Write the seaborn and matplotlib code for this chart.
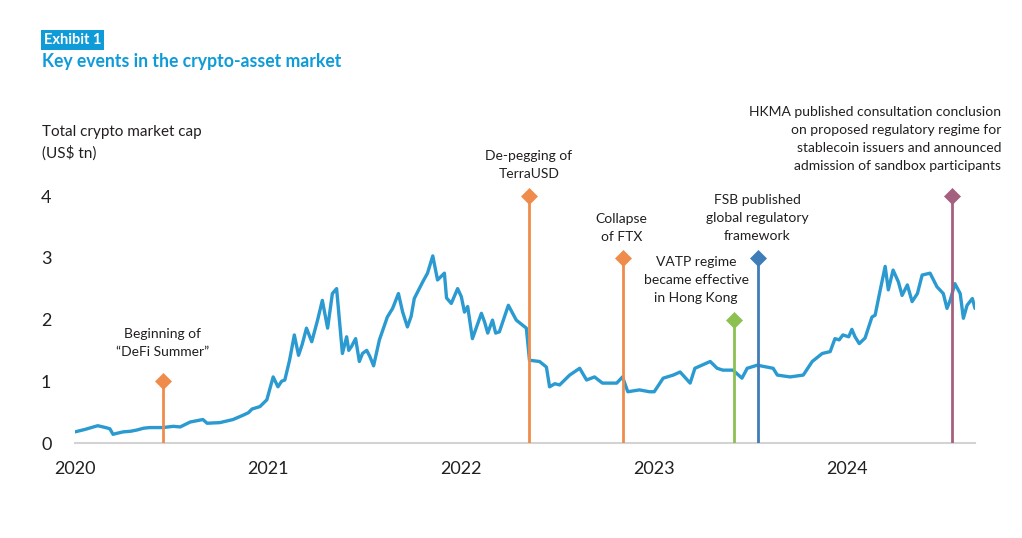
import matplotlib
matplotlib.use("Agg")
import matplotlib.pyplot as plt
import seaborn as sns
import pandas as pd

# ---------------- data ----------------
dates = [
    "2020-01-01", "2020-01-20", "2020-02-13", "2020-02-28", "2020-03-07", "2020-03-13",
    "2020-03-17", "2020-04-01", "2020-04-15", "2020-04-27", "2020-05-10",
    "2020-05-22", "2020-06-15", "2020-07-05", "2020-07-18", "2020-08-06", "2020-08-18",
    "2020-08-30", "2020-09-07", "2020-10-01", "2020-10-26", "2020-11-14", "2020-11-24",
    "2020-12-01", "2020-12-16", "2020-12-29",
    "2021-01-10", "2021-01-19", "2021-01-26", "2021-02-01", "2021-02-10", "2021-02-19",
    "2021-02-27", "2021-03-06", "2021-03-14", "2021-03-24", "2021-04-04", "2021-04-13",
    "2021-04-23", "2021-05-02", "2021-05-10", "2021-05-21", "2021-05-29", "2021-06-02",
    "2021-06-07", "2021-06-15", "2021-06-22", "2021-06-28", "2021-07-06", "2021-07-12",
    "2021-07-19", "2021-07-30", "2021-08-14", "2021-08-24", "2021-09-04", "2021-09-12",
    "2021-09-21", "2021-09-28", "2021-10-04", "2021-10-20", "2021-10-29", "2021-11-08",
    "2021-11-17", "2021-11-30", "2021-12-04", "2021-12-13", "2021-12-20", "2021-12-25",
    "2022-01-01", "2022-01-07", "2022-01-13", "2022-01-22", "2022-02-08", "2022-02-14",
    "2022-02-20", "2022-03-01", "2022-03-07", "2022-03-14", "2022-03-31", "2022-04-15",
    "2022-05-04", "2022-05-10", "2022-05-29", "2022-06-11", "2022-06-17", "2022-06-27",
    "2022-07-06", "2022-07-25", "2022-08-13", "2022-08-26", "2022-09-10", "2022-09-25",
    "2022-10-22", "2022-11-02", "2022-11-12", "2022-12-04", "2022-12-23",
    "2023-01-01", "2023-01-18", "2023-02-06", "2023-02-19", "2023-03-10", "2023-03-19",
    "2023-04-17", "2023-04-30", "2023-05-11", "2023-05-30", "2023-06-16", "2023-06-26",
    "2023-07-15", "2023-08-14", "2023-08-22", "2023-09-15", "2023-10-10", "2023-10-27",
    "2023-11-15", "2023-11-30", "2023-12-09", "2023-12-17", "2023-12-24",
    "2024-01-04", "2024-01-10", "2024-01-16", "2024-01-24", "2024-02-04", "2024-02-17",
    "2024-02-23", "2024-03-03", "2024-03-13", "2024-03-19", "2024-03-28", "2024-04-07",
    "2024-04-14", "2024-04-24", "2024-05-03", "2024-05-13", "2024-05-22", "2024-06-06",
    "2024-06-19", "2024-07-01", "2024-07-08", "2024-07-14", "2024-07-23", "2024-08-02",
    "2024-08-08", "2024-08-15", "2024-08-25", "2024-08-30",
]
market_cap = [
    0.18, 0.22, 0.28, 0.25, 0.23, 0.14,
    0.15, 0.18, 0.19, 0.21, 0.24,
    0.25, 0.25, 0.27, 0.26, 0.34, 0.36,
    0.38, 0.32, 0.33, 0.38, 0.45, 0.49,
    0.55, 0.59, 0.70,
    1.07, 0.91, 1.00, 1.02, 1.34, 1.75,
    1.42, 1.60, 1.86, 1.64, 1.99, 2.31,
    1.86, 2.42, 2.50, 1.45, 1.72, 1.50,
    1.56, 1.69, 1.32, 1.45, 1.50, 1.40,
    1.25, 1.67, 2.04, 2.18, 2.42, 2.12,
    1.88, 2.05, 2.34, 2.61, 2.75, 3.03,
    2.64, 2.75, 2.35, 2.26, 2.40, 2.50,
    2.37, 2.12, 2.21, 1.69, 2.10, 1.96,
    1.78, 1.99, 1.78, 1.80, 2.23, 1.99,
    1.86, 1.34, 1.32, 1.23, 0.91, 0.96,
    0.94, 1.10, 1.21, 1.02, 1.07, 0.97,
    0.97, 1.07, 0.83, 0.86, 0.83,
    0.83, 1.05, 1.10, 1.15, 0.97, 1.21,
    1.32, 1.21, 1.18, 1.18, 1.05, 1.21,
    1.26, 1.21, 1.10, 1.07, 1.10, 1.32,
    1.45, 1.48, 1.69, 1.67, 1.75,
    1.72, 1.84, 1.72, 1.61, 1.70, 2.04,
    2.07, 2.45, 2.86, 2.48, 2.80, 2.61,
    2.39, 2.56, 2.29, 2.42, 2.72, 2.75,
    2.53, 2.42, 2.18, 2.31, 2.58, 2.42,
    2.02, 2.23, 2.34, 2.18,
]

event_dates = ["2020-06-15", "2022-05-09", "2022-11-02", "2023-06-01", "2023-07-17", "2024-07-18"]
event_levels = [1, 4, 3, 2, 3, 4]
event_labels = [
    "Beginning of\n\u201cDeFi Summer\u201d",
    "De-pegging of\nTerraUSD",
    "Collapse\nof FTX",
    "VATP regime\nbecame effective\nin Hong Kong",
    "FSB published\nglobal regulatory\nframework",
    "HKMA published consultation conclusion\non proposed regulatory regime for\nstablecoin issuers and announced\nadmission of sandbox participants",
]
year_ticks = ["2020", "2021", "2022", "2023", "2024"]
y_ticks = [0, 1, 2, 3, 4]

# ---------------- style ----------------
event_colors = ["#F08C4B", "#F08C4B", "#F08C4B", "#8CC152", "#3F7DB8", "#A6607F"]
# label offsets in pixels (dx, dy) and horizontal alignment
label_layout = [(0, 23, "center"), (0, 16, "center"), (-1, 15, "center"),
                (-38, 16, "center"), (-1, 16, "center"), (49, 24, "right")]
line_color = "#2A9AD0"
title_color = "#0F9BD8"
text_color = "#231F20"

sns.set_theme(style="white")
plt.rcParams["font.family"] = ["Lato", "DejaVu Sans"]

fig = plt.figure(figsize=(10.22, 5.38), dpi=100)
ax = fig.add_axes([75 / 1022, 1 - 443 / 538, 900 / 1022, 247 / 538])

df = pd.DataFrame({"date": pd.to_datetime(dates), "cap": market_cap})
sns.lineplot(data=df, x="date", y="cap", ax=ax, color=line_color, linewidth=2.4, zorder=2)

ev = pd.DataFrame({"date": pd.to_datetime(event_dates), "level": event_levels})
for (d, lvl), col, lab, (dx, dy, ha) in zip(ev.itertuples(index=False), event_colors,
                                           event_labels, label_layout):
    ax.plot([d, d], [0, lvl], color=col, lw=2.0, solid_capstyle="butt", zorder=3)
    ax.plot([d], [lvl], marker="D", ms=8, color=col, mec=col, mew=0.5,
            clip_on=False, zorder=4)
    ax.annotate(lab, xy=(d, lvl), xytext=(dx, dy), textcoords="offset pixels",
                ha=ha, va="bottom", multialignment=ha, fontsize=10,
                color=text_color, linespacing=1.6, annotation_clip=False)

ax.set_xlim(pd.Timestamp("2020-01-01"), pd.Timestamp("2024-08-30"))
ax.set_ylim(0, 4)
ax.set_xticks(pd.to_datetime([y + "-01-01" for y in year_ticks]))
ax.set_xticklabels(year_ticks)
ax.set_yticks(y_ticks)
ax.set_yticklabels([str(v) for v in y_ticks])
ax.tick_params(axis="x", length=0, pad=13, labelsize=13, labelcolor=text_color)
ax.tick_params(axis="y", length=0, pad=17, labelsize=13, labelcolor=text_color)
ax.set_xlabel("")
ax.set_ylabel("")
for s in ["top", "right", "left"]:
    ax.spines[s].set_visible(False)
ax.spines["bottom"].set_color("#D3D3D3")
ax.spines["bottom"].set_linewidth(1.5)
ax.grid(False)

fig.text(44 / 1022, 1 - 40 / 538, "Exhibit 1", color="white", fontsize=10.5,
         fontweight="bold", va="center", ha="left",
         bbox=dict(boxstyle="square,pad=0.2", fc=title_color, ec="none"))
fig.text(42 / 1022, 1 - 62 / 538, "Key events in the crypto-asset market",
         color=title_color, fontsize=12.7, fontweight="bold", va="center", ha="left")
fig.text(42 / 1022, 1 - 125 / 538, "Total crypto market cap\n(US$ tn)",
         color=text_color, fontsize=11, va="top", ha="left", linespacing=1.5)

fig.savefig("out.png", dpi=100)
